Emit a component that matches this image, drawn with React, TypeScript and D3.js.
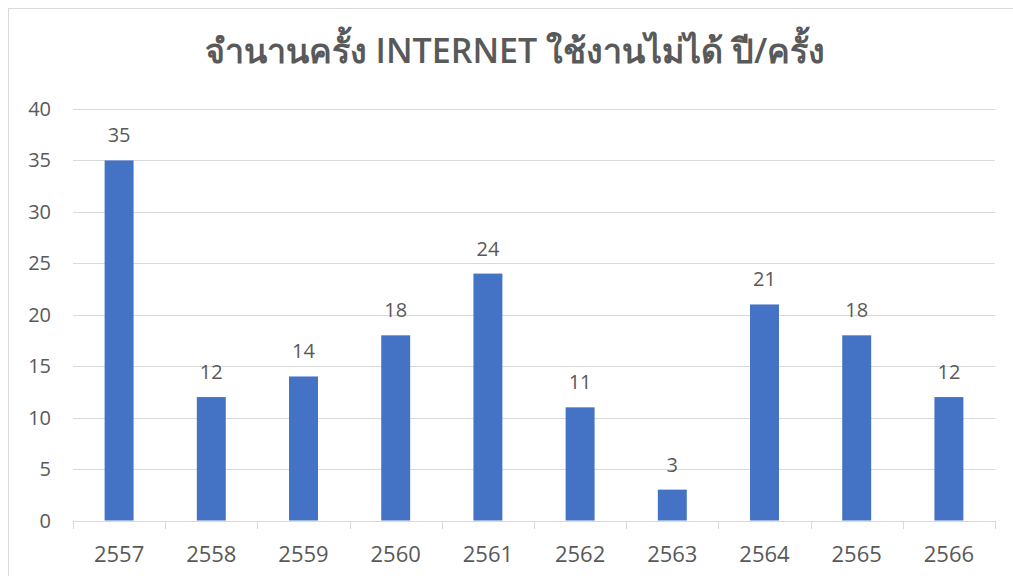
import React, { useEffect, useRef } from 'react';
import * as d3 from 'd3';

const TITLE = 'จำนานครั้ง INTERNET ใช้งานไม่ได้ ปี/ครั้ง';
const YEARS = ['2557', '2558', '2559', '2560', '2561', '2562', '2563', '2564', '2565', '2566'];
const COUNTS = [35, 12, 14, 18, 24, 11, 3, 21, 18, 12];
const Y_TICKS = [0, 5, 10, 15, 20, 25, 30, 35, 40];

const WIDTH = 1013;
const HEIGHT = 576;
const LEFT = 73;
const RIGHT = 995;
const TOP = 109;
const BOTTOM = 520.5;
const FONT = '"Segoe UI", "Open Sans", "Noto Sans", sans-serif';
const TEXT = '#595959';

export default function App() {
  const ref = useRef<SVGSVGElement>(null);

  useEffect(() => {
    const svg = d3.select(ref.current);
    svg.selectAll('*').remove();

    const x = d3.scaleBand().domain(YEARS).range([LEFT, RIGHT]).paddingInner(0.686).paddingOuter(0.343);
    const xb = d3.scaleBand().domain(YEARS).range([LEFT, RIGHT]);
    const y = d3.scaleLinear().domain([0, 40]).range([BOTTOM, TOP]);

    svg.append('rect')
      .attr('x', 8.5).attr('y', 8.5)
      .attr('width', WIDTH).attr('height', HEIGHT)
      .attr('fill', '#fff').attr('stroke', '#d9d9d9');

    svg.append('text')
      .attr('x', 515).attr('y', 63)
      .attr('text-anchor', 'middle')
      .attr('font-family', FONT)
      .attr('font-size', 34)
      .attr('font-weight', 600)
      .attr('fill', TEXT)
      .text(TITLE);

    // gridlines
    svg.append('g')
      .selectAll('line')
      .data(Y_TICKS.filter(d => d > 0))
      .join('line')
      .attr('x1', LEFT).attr('x2', RIGHT)
      .attr('y1', d => Math.round(y(d)) + 0.5)
      .attr('y2', d => Math.round(y(d)) + 0.5)
      .attr('stroke', '#d9d9d9');

    // y labels
    svg.append('g')
      .selectAll('text')
      .data(Y_TICKS)
      .join('text')
      .attr('x', 51)
      .attr('y', d => y(d) + 7)
      .attr('text-anchor', 'end')
      .attr('font-family', FONT)
      .attr('font-size', 20)
      .attr('fill', TEXT)
      .text(d => d);

    // bars
    svg.append('g')
      .selectAll('rect')
      .data(COUNTS)
      .join('rect')
      .attr('x', (d, i) => x(YEARS[i]) as number)
      .attr('y', d => y(d))
      .attr('width', x.bandwidth())
      .attr('height', d => BOTTOM - y(d))
      .attr('fill', '#4472c4');

    // data labels
    svg.append('g')
      .selectAll('text')
      .data(COUNTS)
      .join('text')
      .attr('x', (d, i) => (x(YEARS[i]) as number) + x.bandwidth() / 2)
      .attr('y', d => y(d) - 18)
      .attr('text-anchor', 'middle')
      .attr('font-family', FONT)
      .attr('font-size', 20)
      .attr('fill', TEXT)
      .text(d => d);

    // x axis
    const axis = svg.append('g');
    axis.append('line')
      .attr('x1', LEFT).attr('x2', RIGHT)
      .attr('y1', Math.round(BOTTOM) + 0.5).attr('y2', Math.round(BOTTOM) + 0.5)
      .attr('stroke', '#d9d9d9');
    const bounds = YEARS.map(d => xb(d) as number).concat([RIGHT]);
    axis.selectAll('line.tick')
      .data(bounds)
      .join('line')
      .attr('class', 'tick')
      .attr('x1', d => Math.round(d) + 0.5).attr('x2', d => Math.round(d) + 0.5)
      .attr('y1', Math.round(BOTTOM)).attr('y2', Math.round(BOTTOM) + 8)
      .attr('stroke', '#d9d9d9');
    axis.selectAll('text')
      .data(YEARS)
      .join('text')
      .attr('x', d => (xb(d) as number) + xb.bandwidth() / 2)
      .attr('y', 562)
      .attr('text-anchor', 'middle')
      .attr('font-family', FONT)
      .attr('font-size', 22)
      .attr('fill', TEXT)
      .text(d => d);
  }, []);

  return (
    <svg
      ref={ref}
      width={WIDTH}
      height={HEIGHT}
      style={{ position: 'absolute', left: 0, top: 0 }}
    />
  );
}
